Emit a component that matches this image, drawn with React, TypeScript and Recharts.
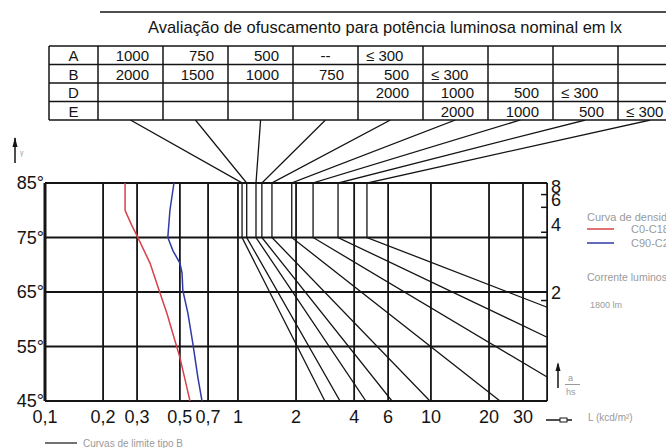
import React from "react";
import { ComposedChart, Line, ReferenceLine, XAxis, YAxis } from "recharts";

const FONT = '"Liberation Sans", Arial, sans-serif';
const INK = "#141414";
const GREY = "#9a9a9a";

// luminance axis L (kcd/m²), log scale
const xTicks = [0.1, 0.2, 0.3, 0.5, 0.7, 1, 2, 4, 6, 10, 20, 30];
const gridL = [0.1, 0.2, 0.3, 0.5, 0.7, 1, 2, 4, 6, 10, 20, 30, 40];
const L_MIN = 0.1;
const L_MAX = 40;
const L_DOMAIN_MAX = 200; // the table runs on past the plot to the right

// angle axis (degrees) and the a/hs marks on the right edge
const angleTicks = [45, 55, 65, 75, 85];
const aHsTicks = [8, 6, 4, 2];
const TABLE_EDGE_A = 96.56; // angle level of the table's bottom edge

// glare rating table
const tableRows = ["A", "B", "D", "E"];
const rowA = ["1000", "750", "500", "--", "≤ 300", "", "", "", ""];
const rowB = ["2000", "1500", "1000", "750", "500", "≤ 300", "", "", ""];
const rowD = ["", "", "", "", "2000", "1000", "500", "≤ 300", ""];
const rowE = ["", "", "", "", "", "2000", "1000", "500", "≤ 300"];
const tableCells = [rowA, rowB, rowD, rowE];

// limit curves: from each table column down to 85°, straight down to 75°, then diagonal
const limitTopL = [0.277, 0.602, 1.31, 2.84, 6.17, 13.4, 29.1, 63.1, 137];
const limitL = [1.05, 1.11, 1.24, 1.33, 1.5, 1.9, 2.45, 3.3, 4.66];
const limitEndL = [2.82, 3.38, 4.6, 6.28, 9.88, 22.8, 40, 40, 40];
const limitEndA = [45, 45, 45, 45, 45, 45, 49.4, 56.7, 62.2];

// luminance curves of the luminaire
const redA = [85, 80, 77.4, 75.3, 70.3, 65.9, 61, 56, 53, 47.4, 45];
const redL = [0.26, 0.26, 0.28, 0.3, 0.35, 0.385, 0.429, 0.472, 0.5, 0.544, 0.564];
const blueA = [85, 80, 75, 72.6, 70.3, 68.5, 65.3, 61, 55.5, 49.3, 45];
const blueL = [0.466, 0.444, 0.433, 0.46, 0.5, 0.513, 0.518, 0.551, 0.584, 0.62, 0.651];

const limitData = limitL.map((l, i) => [
  { L: limitTopL[i], a: TABLE_EDGE_A },
  { L: l, a: 85 },
  { L: l, a: 75 },
  { L: limitEndL[i], a: limitEndA[i] },
]);
const redData = redA.map((a, i) => ({ L: redL[i], a }));
const blueData = blueA.map((a, i) => ({ L: blueL[i], a }));

const deg = (v: number) => (Math.atan(v) * 180) / Math.PI;
const fmtL = (v: number) => String(v).replace(".", ",");

// table layout
const T_X = 49;
const T_Y = 46;
const LABEL_W = 49;
const COL_W = 65;
const ROW_H = 18.5;

const TableOverlay = () => {
  const nCols = rowA.length;
  const right = T_X + LABEL_W + COL_W * nCols;
  const bottom = T_Y + ROW_H * tableRows.length;
  return (
    <svg
      width={666}
      height={448}
      style={{ position: "absolute", left: 0, top: 0, pointerEvents: "none" }}>
      <line x1={100} y1={12} x2={666} y2={12} stroke={INK} strokeWidth={1.5} />
      <text
        x={148}
        y={33}
        textLength={474}
        lengthAdjust="spacingAndGlyphs"
        fontFamily={FONT}
        fontSize={17}
        fill={INK}>
        Avaliação de ofuscamento para potência luminosa nominal em lx
      </text>
      {tableRows.map((_, r) => (
        <line
          key={"h" + r}
          x1={T_X}
          x2={right}
          y1={T_Y + r * ROW_H}
          y2={T_Y + r * ROW_H}
          stroke={INK}
          strokeWidth={1.5}
        />
      ))}
      <line x1={T_X} x2={right} y1={bottom} y2={bottom} stroke={INK} strokeWidth={1.5} />
      {[T_X, ...rowA.map((_, c) => T_X + LABEL_W + COL_W * c)].map((x, i) => (
        <line key={"v" + i} x1={x} x2={x} y1={T_Y} y2={bottom} stroke={INK} strokeWidth={1.5} />
      ))}
      {tableRows.map((lab, r) => (
        <g key={lab} fontFamily={FONT} fontSize={15} fill={INK}>
          <text x={T_X + LABEL_W / 2} y={T_Y + r * ROW_H + 15} textAnchor="middle">
            {lab}
          </text>
          {tableCells[r].map((v, c) => {
            const left = T_X + LABEL_W + COL_W * c;
            if (!v) return null;
            if (v.startsWith("≤"))
              return (
                <text key={c} x={left + 8} y={T_Y + r * ROW_H + 15}>
                  {v}
                </text>
              );
            if (v === "--")
              return (
                <text key={c} x={left + COL_W / 2} y={T_Y + r * ROW_H + 15} textAnchor="middle">
                  {v}
                </text>
              );
            return (
              <text key={c} x={left + COL_W - 14} y={T_Y + r * ROW_H + 15} textAnchor="end">
                {v}
              </text>
            );
          })}
        </g>
      ))}

      {/* gamma arrow */}
      <line x1={15} y1={163} x2={15} y2={138} stroke={INK} strokeWidth={1.5} />
      <path d="M15 137 L12.5 147 L17.5 147 Z" fill={INK} />
      <text x={20} y={155} fontFamily={FONT} fontSize={7} fill={GREY}>
        γ
      </text>

      {/* a/hs arrow */}
      <line x1={558} y1={388} x2={558} y2={364} stroke={INK} strokeWidth={1.5} />
      <path d="M558 362 L555.5 371 L560.5 371 Z" fill={INK} />
      <text x={568} y={381} fontFamily={FONT} fontSize={9} fill={GREY}>
        a
      </text>
      <line x1={565} y1={384.5} x2={580} y2={384.5} stroke={GREY} strokeWidth={1} />
      <text x={566} y={395} fontFamily={FONT} fontSize={9} fill={GREY}>
        hs
      </text>

      {/* L arrow */}
      <line x1={546} y1={420} x2={572} y2={420} stroke={INK} strokeWidth={1.5} />
      <rect x={560} y={418} width={7} height={4} fill="#fff" stroke={INK} strokeWidth={1} />
      <text x={588} y={421} fontFamily={FONT} fontSize={10} fill={GREY}>
        L (kcd/m²)
      </text>

      {/* legends */}
      <g fontFamily={FONT} fontSize={11} fill={GREY}>
        <text x={587} y={221}>Curva de densidade luminosa</text>
        <line x1={587} y1={229} x2={614} y2={229} stroke="#d8414a" strokeWidth={1.5} />
        <text x={631} y={232.5}>C0-C180</text>
        <line x1={587} y1={243} x2={614} y2={243} stroke="#2f3aa6" strokeWidth={1.5} />
        <text x={631} y={246.5}>C90-C270</text>
        <text x={587} y={281} fontSize={10.5}>
          Corrente luminosa
        </text>
        <text x={590} y={308} fontSize={9}>
          1800 lm
        </text>
        <line x1={45} y1={443} x2={77} y2={443} stroke={INK} strokeWidth={1.2} />
        <text x={83} y={447} fontSize={10}>
          Curvas de limite tipo B
        </text>
      </g>
    </svg>
  );
};

export default function App() {
  return (
    <div
      style={{
        position: "absolute",
        left: 0,
        top: 0,
        width: 666,
        height: 448,
        overflow: "hidden",
        background: "#fff",
      }}>
      <ComposedChart
        width={690}
        height={448}
        margin={{ top: 120, right: 8, bottom: 17, left: 0 }}>
        <XAxis
          type="number"
          dataKey="L"
          scale="log"
          domain={[L_MIN, L_DOMAIN_MAX]}
          allowDataOverflow
          ticks={xTicks}
          interval={0}
          tickFormatter={fmtL}
          axisLine={false}
          tickLine={false}
          tickSize={0}
          tickMargin={9}
          height={30}
          tick={{ fill: INK, fontSize: 18, fontFamily: FONT }}
        />
        <YAxis
          type="number"
          dataKey="a"
          domain={[45, TABLE_EDGE_A]}
          allowDataOverflow
          ticks={angleTicks}
          interval={0}
          tickFormatter={(v) => `${v}°`}
          axisLine={false}
          tickLine={false}
          tickSize={0}
          tickMargin={1}
          width={45}
          tick={{ fill: INK, fontSize: 18, fontFamily: FONT }}
        />

        {angleTicks.map((a) => (
          <ReferenceLine
            key={"ga" + a}
            segment={[
              { x: L_MIN, y: a },
              { x: L_MAX, y: a },
            ]}
            stroke={INK}
            strokeWidth={1.8}
          />
        ))}
        {gridL.map((l) => (
          <ReferenceLine
            key={"gl" + l}
            segment={[
              { x: l, y: 45 },
              { x: l, y: 85 },
            ]}
            stroke={INK}
            strokeWidth={l === L_MIN ? 3 : 1.8}
          />
        ))}
        {aHsTicks.map((v) => (
          <ReferenceLine
            key={"ah" + v}
            segment={[
              { x: L_MAX / 1.075, y: deg(v) },
              { x: L_MAX, y: deg(v) },
            ]}
            stroke={INK}
            strokeWidth={1.5}
            label={{
              value: String(v),
              position: "right",
              offset: 4,
              dy: -8,
              fill: INK,
              fontSize: 18,
              fontFamily: FONT,
            }}
          />
        ))}

        {limitData.map((d, i) => (
          <Line
            key={"lim" + i}
            data={d}
            dataKey="a"
            type="linear"
            stroke={INK}
            strokeWidth={1.3}
            dot={false}
            activeDot={false}
            isAnimationActive={false}
          />
        ))}
        <Line
          data={redData}
          dataKey="a"
          type="linear"
          stroke="#d8414a"
          strokeWidth={1.5}
          dot={false}
          activeDot={false}
          isAnimationActive={false}
        />
        <Line
          data={blueData}
          dataKey="a"
          type="linear"
          stroke="#2f3aa6"
          strokeWidth={1.5}
          dot={false}
          activeDot={false}
          isAnimationActive={false}
        />
      </ComposedChart>
      <TableOverlay />
    </div>
  );
}
